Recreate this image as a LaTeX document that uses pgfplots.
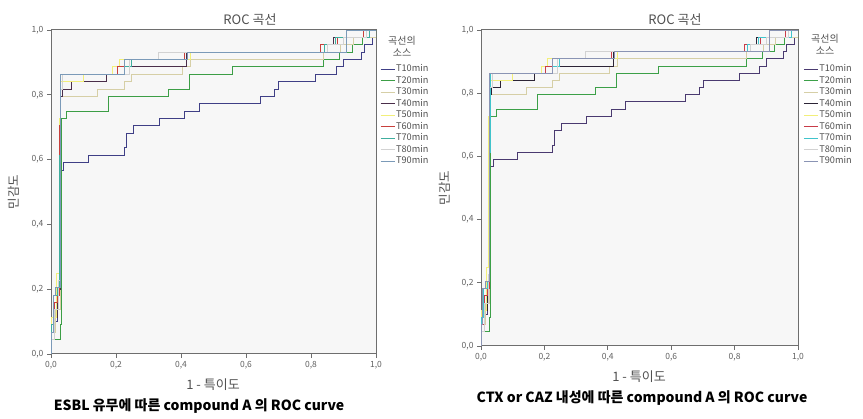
\documentclass[border=0pt]{standalone}
\usepackage{fontspec}
\setmainfont{Noto Sans CJK KR}
\usepackage{pgfplots}
\usepackage{pgfplotstable}
\pgfplotsset{compat=1.18}

\definecolor{axgray}{HTML}{6E6E6E}
\definecolor{bggray}{HTML}{F7F7F7}
\definecolor{tickgray}{HTML}{606060}
\definecolor{txtgray}{HTML}{505050}
% left panel
\definecolor{lA}{HTML}{3F3F86}
\definecolor{lB}{HTML}{3C9E46}
\definecolor{lC}{HTML}{D6CFA6}
\definecolor{lD}{HTML}{4A2E4A}
\definecolor{lE}{HTML}{F2EF7A}
\definecolor{lF}{HTML}{C8403C}
\definecolor{lG}{HTML}{3FAE9E}
\definecolor{lH}{HTML}{D2D2D2}
\definecolor{lI}{HTML}{7B9AB8}
% right panel
\definecolor{rA}{HTML}{4A3A70}
\definecolor{rB}{HTML}{3CA048}
\definecolor{rC}{HTML}{D6CFA6}
\definecolor{rD}{HTML}{2C2436}
\definecolor{rE}{HTML}{F2EF7A}
\definecolor{rF}{HTML}{C83C48}
\definecolor{rG}{HTML}{40C4CC}
\definecolor{rH}{HTML}{D2D2D2}
\definecolor{rI}{HTML}{8A94B4}

\pgfplotstableread{
x y
0 0
0 0.045
0.01 0.1
0.02 0.2
0.028 0.568
0.038 0.591
0.115 0.614
0.226 0.636
0.233 0.682
0.255 0.705
0.333 0.727
0.411 0.75
0.456 0.773
0.644 0.795
0.688 0.818
0.701 0.841
0.814 0.864
0.878 0.886
0.900 0.909
0.955 0.932
0.965 0.955
0.988 0.977
1 1
}\tA
\pgfplotstableread{
x y
0 0
0 0.045
0.028 0.09
0.031 0.727
0.048 0.75
0.177 0.795
0.361 0.818
0.426 0.864
0.559 0.886
0.837 0.909
0.887 0.932
0.926 0.955
0.957 0.977
1 1
}\tB
\pgfplotstableread{
x y
0 0
0 0.068
0.015 0.136
0.028 0.795
0.144 0.818
0.226 0.841
0.246 0.864
0.405 0.886
0.43 0.909
0.837 0.932
0.89 0.955
0.93 0.977
1 1
}\tC
\pgfplotstableread{
x y
0 0
0 0.09
0.012 0.114
0.02 0.2
0.028 0.795
0.034 0.818
0.062 0.841
0.17 0.864
0.203 0.886
0.418 0.932
0.83 0.955
0.87 0.977
0.97 1
1 1
}\tD
\pgfplotstableread{
x y
0 0
0 0.114
0.018 0.25
0.025 0.727
0.028 0.841
0.10 0.864
0.19 0.886
0.21 0.909
0.43 0.932
0.84 0.955
0.9 0.977
0.96 1
1 1
}\tE
\pgfplotstableread{
x y
0 0
0 0.068
0.012 0.159
0.02 0.182
0.026 0.705
0.03 0.864
0.203 0.886
0.226 0.909
0.411 0.932
0.83 0.955
0.88 0.977
0.96 1
1 1
}\tF
\pgfplotstableread{
x y
0 0
0 0.09
0.008 0.182
0.02 0.205
0.027 0.614
0.03 0.864
0.226 0.886
0.246 0.909
0.42 0.932
0.84 0.955
0.875 0.977
0.98 1
1 1
}\tG
\pgfplotstableread{
x y
0 0
0 0.045
0.01 0.136
0.022 0.227
0.028 0.818
0.035 0.864
0.24 0.909
0.33 0.932
0.85 0.955
0.9 0.977
0.97 1
1 1
}\tH
\pgfplotstableread{
x y
0 0
0 0.068
0.006 0.182
0.015 0.205
0.028 0.864
0.226 0.909
0.42 0.932
0.91 1
1 1
}\tI

\pgfplotsset{
  rocax/.style={
    scale only axis,
    xmin=0, xmax=1, ymin=0, ymax=1,
    xtick={0,0.2,0.4,0.6,0.8,1},
    ytick={0,0.2,0.4,0.6,0.8,1},
    tick align=outside, tickpos=left,
    major tick length=4pt,
    axis line style={draw=axgray, line width=1pt},
    every tick/.style={draw=axgray, line width=0.8pt},
    axis background/.style={fill=bggray},
    ticklabel style={font=\fontsize{8.5}{9}\selectfont, text=tickgray},
    /pgf/number format/.cd, use comma, fixed, fixed zerofill, precision=1, assume math mode=true,
    /pgfplots/.cd,
    legend cell align=left,
    legend image code/.code={\draw[##1, line width=1pt] (0pt,0pt) -- (14pt,0pt);},
    legend style={draw=none, fill=none, anchor=north west, inner sep=0pt,
      font=\fontsize{9.2}{9}\selectfont, text=txtgray, row sep=1.5pt,
      nodes={inner sep=1pt, text height=6.5pt, text depth=1.5pt}},
  },
  rocl/.style={const plot, line width=0.9pt},
}

\newcommand{\rocplots}[1]{%
  \addplot[rocl, draw=#1A] table {\tA}; \addlegendentry{T10min}
  \addplot[rocl, draw=#1B] table {\tB}; \addlegendentry{T20min}
  \addplot[rocl, draw=#1C] table {\tC}; \addlegendentry{T30min}
  \addplot[rocl, draw=#1D] table {\tD}; \addlegendentry{T40min}
  \addplot[rocl, draw=#1E] table {\tE}; \addlegendentry{T50min}
  \addplot[rocl, draw=#1F] table {\tF}; \addlegendentry{T60min}
  \addplot[rocl, draw=#1G] table {\tG}; \addlegendentry{T70min}
  \addplot[rocl, draw=#1H] table {\tH}; \addlegendentry{T80min}
  \addplot[rocl, draw=#1I] table {\tI}; \addlegendentry{T90min}
}

\begin{document}
\begin{tikzpicture}[x=1pt,y=1pt]
\path[use as bounding box] (0,0) rectangle (863,419);

% ---------- left panel ----------
\begin{axis}[rocax, width=325pt, height=324pt, at={(51pt,65pt)}, anchor=south west,
  legend style={at={(1.012,0.895)}}]
\rocplots{l}
\end{axis}
\node[font=\fontsize{13}{13}\selectfont, text=txtgray] at (250,399) {ROC 곡선};
\node[font=\fontsize{10}{12}\selectfont, text=txtgray, align=center] at (402,373) {곡선의\\소스};
\node[font=\fontsize{12.5}{13}\selectfont, text=txtgray, rotate=90] at (14,227) {민감도};
\node[font=\fontsize{13}{13}\selectfont, text=txtgray] at (213,34) {1 - 특이도};
\node[font=\bfseries\fontsize{14}{14}\selectfont] at (199,13) {ESBL 유무에 따른 compound A 의 ROC curve};

% ---------- right panel ----------
\begin{axis}[rocax, width=317pt, height=316pt, at={(481pt,73pt)}, anchor=south west,
  legend style={at={(1.016,0.892)}}]
\rocplots{r}
\end{axis}
\node[font=\fontsize{13}{13}\selectfont, text=txtgray] at (675,399) {ROC 곡선};
\node[font=\fontsize{10}{12}\selectfont, text=txtgray, align=center] at (825,375) {곡선의\\소스};
\node[font=\fontsize{12.5}{13}\selectfont, text=txtgray, rotate=90] at (445,231) {민감도};
\node[font=\fontsize{13}{13}\selectfont, text=txtgray] at (639,42) {1 - 특이도};
\node[font=\bfseries\fontsize{14}{14}\selectfont] at (642,21) {CTX or CAZ 내성에 따른 compound A 의 ROC curve};
\end{tikzpicture}
\end{document}
